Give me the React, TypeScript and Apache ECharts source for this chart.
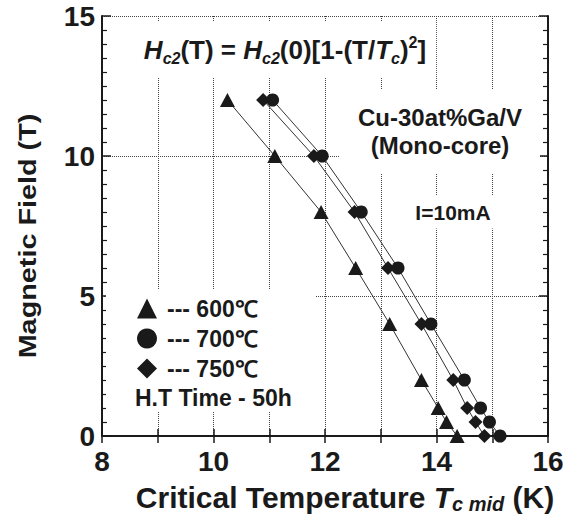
import React, { useEffect, useRef } from "react";
import * as echarts from "echarts";

// ---- Data ----
const fieldLevels = [12, 10, 8, 6, 4, 2, 1, 0.5, 0];
const temps600 = [10.25, 11.1, 11.93, 12.55, 13.16, 13.73, 14.03, 14.18, 14.37];
const temps700 = [11.06, 11.95, 12.65, 13.31, 13.9, 14.5, 14.79, 14.95, 15.14];
const temps750 = [10.89, 11.8, 12.53, 13.13, 13.73, 14.3, 14.55, 14.7, 14.86];
const seriesNames = ["--- 600℃", "--- 700℃", "--- 750℃"];
const xTicks = [8, 10, 12, 14, 16];
const yTicks = [0, 5, 10, 15];

const FONT = "'Liberation Sans', Arial, Helvetica, sans-serif";
const INK = "#1a1a1a";

export default function App() {
  const ref = useRef<HTMLDivElement>(null);

  useEffect(() => {
    if (!ref.current) return;
    const chart = echarts.init(ref.current, undefined, { renderer: "svg" });

    const toPairs = (xs: number[]) => xs.map((x, i) => [x, fieldLevels[i]]);

    const axisLine = { show: true, lineStyle: { color: INK, width: 2 } };
    const split = { show: true, lineStyle: { type: "dotted" as const, color: "#444", width: 1 } };

    const mkSeries = (name: string, xs: number[], symbol: string, size: number | number[]) => ({
      name,
      type: "line",
      data: toPairs(xs),
      symbol,
      symbolSize: size,
      z: 3,
      lineStyle: { color: "#333", width: 1 },
      itemStyle: { color: INK },
      emphasis: { disabled: true },
    });

    const rich = (big: number, small: number, lh: number, slh: number) => ({
      r: { fontSize: big, fontWeight: "bold", fontFamily: FONT, fill: INK, lineHeight: lh },
      i: { fontSize: big, fontWeight: "bold", fontStyle: "italic", fontFamily: FONT, fill: INK, lineHeight: lh },
      sub: {
        fontSize: small, fontWeight: "bold", fontStyle: "italic", fontFamily: FONT, fill: INK,
        lineHeight: slh, verticalAlign: "bottom",
      },
      sup: {
        fontSize: small, fontWeight: "bold", fontFamily: FONT, fill: INK,
        lineHeight: slh, verticalAlign: "top",
      },
    });

    const option: any = {
      animation: false,
      backgroundColor: "#ffffff",
      grid: { left: 102, right: 31, top: 16, bottom: 79, containLabel: false },
      xAxis: [
        {
          type: "value",
          min: 8,
          max: 16,
          interval: 1,
          position: "bottom",
          axisLine,
          axisTick: { show: true, inside: true, length: 7, lineStyle: { color: INK, width: 1.5 } },
          axisLabel: {
            fontSize: 28,
            fontWeight: "bold",
            fontFamily: FONT,
            color: INK,
            margin: 11,
            formatter: (v: number) => (xTicks.includes(v) ? String(v) : ""),
          },
          splitLine: split,
        },
        {
          type: "value",
          min: 8,
          max: 16,
          interval: 1,
          position: "top",
          axisLine,
          axisTick: { show: true, inside: true, length: 7, lineStyle: { color: INK, width: 1.5 } },
          axisLabel: { show: false },
          splitLine: { show: false },
        },
      ],
      yAxis: [
        {
          type: "value",
          min: 0,
          max: 15,
          interval: 5,
          position: "left",
          axisLine,
          axisTick: { show: true, inside: true, length: 9, lineStyle: { color: INK, width: 1.5 } },
          minorTick: { show: true, splitNumber: 10, length: 5, lineStyle: { color: INK, width: 1.2 } },
          axisLabel: {
            fontSize: 28,
            fontWeight: "bold",
            fontFamily: FONT,
            color: INK,
            margin: 7,
            formatter: (v: number) => (yTicks.includes(v) ? String(v) : ""),
          },
          splitLine: split,
        },
        {
          type: "value",
          min: 0,
          max: 15,
          interval: 5,
          position: "right",
          axisLine,
          axisTick: { show: true, inside: true, length: 9, lineStyle: { color: INK, width: 1.5 } },
          minorTick: { show: true, splitNumber: 10, length: 5, lineStyle: { color: INK, width: 1.2 } },
          axisLabel: { show: false },
          splitLine: { show: false },
        },
      ],
      legend: {
        orient: "vertical",
        left: 137,
        top: 297,
        padding: 0,
        itemWidth: 20,
        itemHeight: 20,
        itemGap: 7,
        selectedMode: false,
        data: [
          { name: seriesNames[0], icon: "triangle" },
          { name: seriesNames[1], icon: "circle" },
          { name: seriesNames[2], icon: "diamond" },
        ],
        textStyle: {
          fontSize: 23,
          fontWeight: "bold",
          fontFamily: FONT,
          color: INK,
          lineHeight: 20,
          padding: [0, 0, 0, 5],
        },
      },
      series: [
        mkSeries(seriesNames[0], temps600, "triangle", [15, 14]),
        mkSeries(seriesNames[1], temps700, "circle", 13),
        mkSeries(seriesNames[2], temps750, "diamond", [14, 14]),
      ],
      graphic: [
        // white area behind the legend block (grid lines are broken there)
        {
          type: "rect",
          z: 1,
          silent: true,
          shape: { x: 106, y: 289, width: 210, height: 122 },
          style: { fill: "#ffffff" },
        },
        {
          type: "text",
          z: 1,
          x: 285,
          y: 50,
          style: {
            text: "{i|H}{sub|c2}{r|(T) = }{i|H}{sub|c2}{r|(0)[1-(T/}{i|T}{sub|c}{r|)}{sup|2}{r|]}",
            rich: rich(26, 16, 32, 13),
            align: "center",
            verticalAlign: "middle",
            backgroundColor: "#ffffff",
            padding: [12, 10, 12, 10],
          },
        },
        {
          type: "text",
          z: 1,
          x: 440,
          y: 131,
          style: {
            text: "Cu-30at%Ga/V\n(Mono-core)",
            fontSize: 24,
            fontWeight: "bold",
            fontFamily: FONT,
            fill: INK,
            lineHeight: 28,
            align: "center",
            verticalAlign: "middle",
            backgroundColor: "#ffffff",
            padding: [14, 18, 14, 18],
          },
        },
        {
          type: "text",
          z: 1,
          x: 453,
          y: 212,
          style: {
            text: "I=10mA",
            fontSize: 21,
            fontWeight: "bold",
            fontFamily: FONT,
            fill: INK,
            align: "center",
            verticalAlign: "middle",
            backgroundColor: "#ffffff",
            padding: [6, 6, 6, 6],
          },
        },
        {
          type: "text",
          z: 5,
          x: 135,
          y: 398,
          style: {
            text: "H.T Time - 50h",
            fontSize: 23,
            fontWeight: "bold",
            fontFamily: FONT,
            fill: INK,
            align: "left",
            verticalAlign: "middle",
          },
        },
        {
          type: "text",
          z: 5,
          x: 28,
          y: 236,
          rotation: Math.PI / 2,
          scaleX: 1.2,
          style: {
            text: "Magnetic Field (T)",
            fontSize: 24,
            fontWeight: "bold",
            fontFamily: FONT,
            fill: INK,
            align: "center",
            verticalAlign: "middle",
          },
        },
        {
          type: "text",
          z: 5,
          x: 345,
          y: 497,
          style: {
            text: "{r|Critical Temperature }{i|T}{sub|c mid}{r| (K)}",
            rich: rich(30, 20, 34, 16),
            align: "center",
            verticalAlign: "middle",
          },
        },
      ],
    };

    chart.setOption(option);
    return () => chart.dispose();
  }, []);

  return (
    <div
      ref={ref}
      style={{ position: "absolute", left: 0, top: 0, width: 579, height: 515, background: "#fff" }}
    />
  );
}
